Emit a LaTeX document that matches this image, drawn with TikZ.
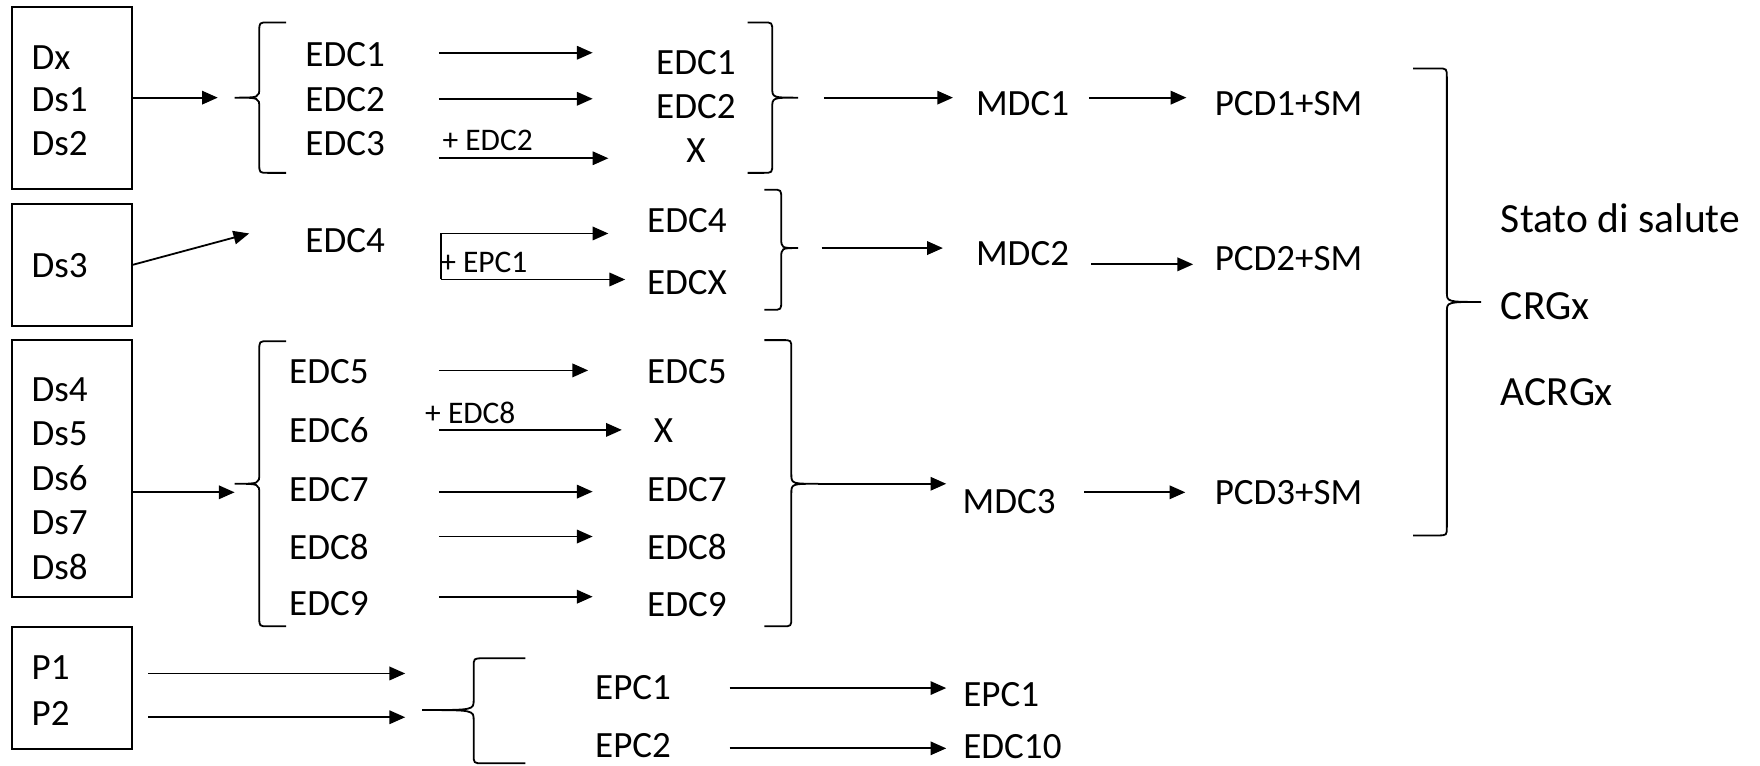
\documentclass[tikz,border=0pt]{standalone}
\usepackage{fontspec}
\setmainfont{Carlito}
\usetikzlibrary{arrows.meta}
% left brace: #1 x of ends, #2 x of vertical, #3 x of tip, #4 top y, #5 tip y, #6 bottom y
\newcommand{\mkLbrace}[6]{%
  \draw[brc] (#1,#4) -- ({#2+8},#4) .. controls (#2,#4) .. (#2,{#4+8})
    -- (#2,{#5-9}) .. controls (#2,#5) .. (#3,#5)
    .. controls (#2,#5) .. (#2,{#5+9})
    -- (#2,{#6-8}) .. controls (#2,#6) .. ({#2+8},#6) -- (#1,#6);}
\newcommand{\mkRbrace}[6]{%
  \draw[brc] (#1,#4) -- ({#2-8},#4) .. controls (#2,#4) .. (#2,{#4+8})
    -- (#2,{#5-9}) .. controls (#2,#5) .. (#3,#5)
    .. controls (#2,#5) .. (#2,{#5+9})
    -- (#2,{#6-8}) .. controls (#2,#6) .. ({#2-8},#6) -- (#1,#6);}
\begin{document}
\begin{tikzpicture}[x=1pt,y=-1pt,
  arr/.style={line width=1.6pt,-{Triangle[length=14pt,width=12pt]}},
  box/.style={draw,line width=1.8pt,inner sep=0pt},
  txt/.style={inner sep=0pt,font=\fontsize{33}{40}\selectfont},
  sml/.style={inner sep=0pt,font=\fontsize{28}{34}\selectfont},
  big/.style={inner sep=0pt,font=\fontsize{37}{44}\selectfont},
  brc/.style={line width=1.6pt}]
\useasboundingbox (0,0) rectangle (1568,682);

% ---------- boxes ----------
\node[box,minimum width=107pt,minimum height=162pt] (B1) at (64.5,87) {};
\node[box,minimum width=107pt,minimum height=108pt] (B2) at (64.5,236) {};
\node[box,minimum width=107pt,minimum height=229pt] (B3) at (64.5,417.5) {};
\node[box,minimum width=107pt,minimum height=108pt] (B4) at (64.5,613) {};

% ---------- box texts ----------
\node[txt,anchor=west] (dx)  at (28,51)  {Dx};
\node[txt,anchor=west] (ds1) at (28,89)  {Ds1};
\node[txt,anchor=west] (ds2) at (28,128) {Ds2};
\node[txt,anchor=west] (ds3) at (28,237) {Ds3};
\node[txt,anchor=west] (ds4) at (28,347) {Ds4};
\node[txt,anchor=west] (ds5) at (28,386) {Ds5};
\node[txt,anchor=west] (ds6) at (28,426) {Ds6};
\node[txt,anchor=west] (ds7) at (28,466) {Ds7};
\node[txt,anchor=west] (ds8) at (28,505) {Ds8};
\node[txt,anchor=west] (p1)  at (28,595) {P1};
\node[txt,anchor=west] (p2)  at (28,635.5) {P2};

% ---------- group 1 ----------
\node[txt] (e1l) at (307.5,48.6) {EDC1};
\node[txt] (e2l) at (307.5,89)   {EDC2};
\node[txt] (e3l) at (307.5,128)  {EDC3};
\node[txt] (e1r) at (620,55.7)   {EDC1};
\node[txt] (e2r) at (620,95)     {EDC2};
\node[txt] (x1r) at (620,134.6)  {X};
\node[sml] (lab1) at (434.5,125.5) {+ EDC2};
\node[txt] (mdc1) at (911,92)    {MDC1};
\node[txt] (pcd1) at (1148,92)   {PCD1+SM};

% ---------- group 2 ----------
\node[txt] (e4l) at (307.5,214)  {EDC4};
\node[sml] (lab2) at (431,234)   {+ EPC1};
\node[txt] (e4r) at (612,196.4)  {EDC4};
\node[txt] (exr) at (612,251.6)  {EDCX};
\node[txt] (mdc2) at (911,225.7) {MDC2};
\node[txt] (pcd2) at (1148,230)  {PCD2+SM};

% ---------- group 3 ----------
\node[txt] (e5l) at (293,331)    {EDC5};
\node[txt] (e6l) at (293,383)    {EDC6};
\node[txt] (e7l) at (293,436.6)  {EDC7};
\node[txt] (e8l) at (293,487)    {EDC8};
\node[txt] (e9l) at (293,537.5)  {EDC9};
\node[sml] (lab3) at (419,368)   {+ EDC8};
\node[txt] (e5r) at (612,331.5)  {EDC5};
\node[txt] (x2r) at (591,383.7)  {X};
\node[txt] (e7r) at (612,436.3)  {EDC7};
\node[txt] (e8r) at (612,487)    {EDC8};
\node[txt] (e9r) at (612,538.5)  {EDC9};
\node[txt] (mdc3) at (899,447)   {MDC3};
\node[txt] (pcd3) at (1148,438.6) {PCD3+SM};

% ---------- group 4 ----------
\node[txt] (ep1l) at (564,613)   {EPC1};
\node[txt] (ep2l) at (564,664)   {EPC2};
\node[txt] (ep1r) at (892,619)   {EPC1};
\node[txt] (e10r) at (902,665)   {EDC10};

% ---------- right column ----------
\node[big,anchor=west] (stato) at (1337,194.5) {Stato di salute};
\node[big,anchor=west] (crg)   at (1337,273)   {CRGx};
\node[big,anchor=west] (acrg)  at (1337,349)   {ACRGx};

% ---------- braces ----------
\mkLbrace{255}{231}{209}{20}{87}{154}
\mkRbrace{666}{688}{711}{20}{87}{154}
\mkRbrace{681}{696}{711}{169}{221}{276}
\mkLbrace{255}{231}{209}{304}{431}{558}
\mkRbrace{681}{705}{729}{303}{431}{558}
\mkLbrace{468}{422}{376}{586.5}{632.6}{680}
\mkRbrace{1259}{1289}{1319.5}{61}{269}{477}

% ---------- arrow end points ----------
\coordinate (a1s) at (118,87);     \coordinate (a1e) at (194,87);
\coordinate (a2s) at (391,47);     \coordinate (a2e) at (528,47);
\coordinate (a3s) at (391,88);     \coordinate (a3e) at (528,88);
\coordinate (a4s) at (391,141);    \coordinate (a4e) at (542,141);
\coordinate (a5s) at (734,87);     \coordinate (a5e) at (849,87);
\coordinate (a6s) at (970,87);     \coordinate (a6e) at (1057,87);
\coordinate (a7s) at (118,236);    \coordinate (a7e) at (222,208);
\coordinate (a8s) at (393,249);    \coordinate (a8m) at (393,208);
\coordinate (a8e) at (542,208);    \coordinate (a9e) at (557,249);
\coordinate (b1s) at (732,221);    \coordinate (b1e) at (840,221);
\coordinate (b2s) at (972,235.5);  \coordinate (b2e) at (1063,235.5);
\coordinate (c1s) at (118,438.6);  \coordinate (c1e) at (209,438.6);
\coordinate (c2s) at (391,330);    \coordinate (c2e) at (524,330);
\coordinate (c3s) at (391,383);    \coordinate (c3e) at (554,383);
\coordinate (c4s) at (391,438);    \coordinate (c4e) at (528,438);
\coordinate (c5s) at (391,478);    \coordinate (c5e) at (528,478);
\coordinate (c6s) at (391,531.6);  \coordinate (c6e) at (528,531.6);
\coordinate (c7s) at (729,431);    \coordinate (c7e) at (843,431);
\coordinate (c8s) at (966,438.6);  \coordinate (c8e) at (1056,438.6);
\coordinate (d1s) at (132,600);    \coordinate (d1e) at (361,600);
\coordinate (d2s) at (132,639);    \coordinate (d2e) at (361,639);
\coordinate (d3s) at (650,613);    \coordinate (d3e) at (843,613);
\coordinate (d4s) at (650,666.7);  \coordinate (d4e) at (843,666.7);

% ---------- arrows ----------
\draw[arr] (a1s) -- (a1e);
\draw[arr] (a2s) -- (a2e);
\draw[arr] (a3s) -- (a3e);
\draw[arr] (a4s) -- (a4e);
\draw[arr] (a5s) -- (a5e);
\draw[arr] (a6s) -- (a6e);
\draw[arr] (a7s) -- (a7e);
\draw[arr] (a8s) -- (a8m) -- (a8e);
\draw[arr] (a8s) -- (a9e);
\draw[arr] (b1s) -- (b1e);
\draw[arr] (b2s) -- (b2e);
\draw[arr] (c1s) -- (c1e);
\draw[arr] (c2s) -- (c2e);
\draw[arr] (c3s) -- (c3e);
\draw[arr] (c4s) -- (c4e);
\draw[arr] (c5s) -- (c5e);
\draw[arr] (c6s) -- (c6e);
\draw[arr] (c7s) -- (c7e);
\draw[arr] (c8s) -- (c8e);
\draw[arr] (d1s) -- (d1e);
\draw[arr] (d2s) -- (d2e);
\draw[arr] (d3s) -- (d3e);
\draw[arr] (d4s) -- (d4e);
\end{tikzpicture}
\end{document}
